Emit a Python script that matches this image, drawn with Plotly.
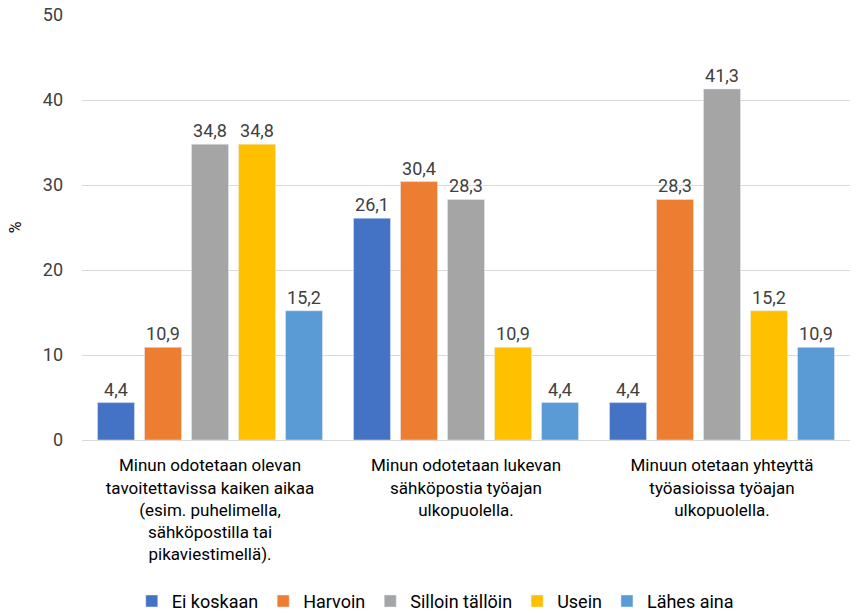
import plotly.graph_objects as go

categories = [
    "Minun odotetaan olevan<br>tavoitettavissa kaiken aikaa<br>(esim. puhelimella,<br>sähköpostilla tai<br>pikaviestimellä).",
    "Minun odotetaan lukevan<br>sähköpostia työajan<br>ulkopuolella.",
    "Minuun otetaan yhteyttä<br>työasioissa työajan<br>ulkopuolella.",
]
series_names = ["Ei koskaan", "Harvoin", "Silloin tällöin", "Usein", "Lähes aina"]
ei_koskaan = [4.4, 26.1, 4.4]
harvoin = [10.9, 30.4, 28.3]
silloin = [34.8, 28.3, 41.3]
usein = [34.8, 10.9, 15.2]
lahes = [15.2, 4.4, 10.9]
colors = ["#4472C4", "#ED7D31", "#A5A5A5", "#FFC000", "#5B9BD5"]
y_ticks = [0, 10, 20, 30, 40, 50]

values = [ei_koskaan, harvoin, silloin, usein, lahes]

fig = go.Figure()
for name, vals, col in zip(series_names, values, colors):
    fig.add_trace(go.Bar(
        x=categories, y=vals, name=name, marker_color=col,
        text=[f"{v:.1f}".replace(".", ",") for v in vals],
        textposition="outside",
        textfont=dict(size=18, color="#404040", family="Roboto, sans-serif"),
        cliponaxis=False,
    ))

fig.update_layout(
    width=860, height=613,
    margin=dict(l=82, r=10, t=15, b=173, autoexpand=False),
    paper_bgcolor="white", plot_bgcolor="white",
    barmode="group", bargap=0.082, bargroupgap=0.213,
    font=dict(family="Roboto, sans-serif", color="#000000", size=16),
    legend=dict(orientation="h", x=0.46, xanchor="center", y=-0.336, yanchor="top",
                font=dict(size=18, color="#000000"), itemwidth=30, traceorder="normal"),
    showlegend=True,
)
fig.update_yaxes(range=[0, 50], tickvals=y_ticks, showgrid=True, gridcolor="#D9D9D9",
                 zeroline=False, showline=False, ticks="", ticklabelstandoff=18,
                 tickfont=dict(size=18, color="#404040"), automargin=False,
                 title=dict(text="%", font=dict(size=16, color="#000000"), standoff=17))
fig.update_xaxes(showline=True, linecolor="#D9D9D9", ticks="", automargin=False,
                 ticklabelstandoff=10, tickfont=dict(size=17, color="#000000"))

fig.write_html("out.html", config={"displayModeBar": False},
               post_script="document.body.style.margin='0';document.body.style.overflow='hidden';")
